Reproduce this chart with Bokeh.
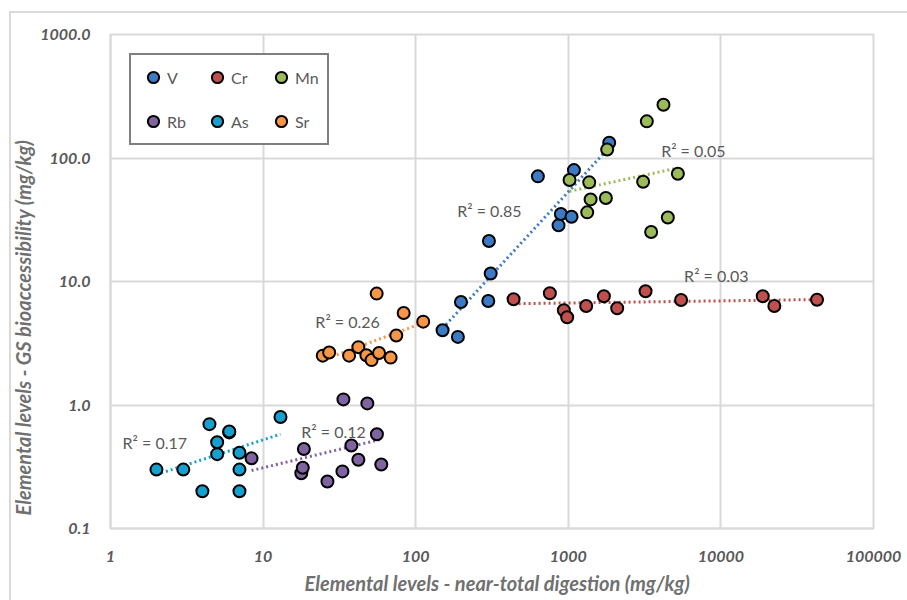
import numpy as np
from bokeh.plotting import figure
from bokeh.models import (Range1d, FixedTicker, Legend, LegendItem, Label,
                          Title, ColumnDataSource)
from bokeh.embed import file_html
from bokeh.resources import INLINE

# ---------------- data ----------------
V_x = [150, 189, 198, 299, 302, 310, 632, 863, 894, 1050, 1089, 1854]
V_y = [4.03, 3.56, 6.82, 6.95, 21.3, 11.6, 71.0, 28.5, 35.2, 33.4, 79.8, 133.0]

Cr_x = [438, 757, 935, 983, 1310, 1711, 2091, 3208, 5485, 18800, 22400, 42650]
Cr_y = [7.18, 8.03, 5.85, 5.13, 6.34, 7.59, 6.07, 8.33, 7.09, 7.59, 6.34, 7.11]

Mn_x = [1019, 1330, 1371, 1400, 1763, 1798, 3093, 3270, 3491, 4205, 4490, 5224]
Mn_y = [66.3, 36.3, 63.5, 46.2, 47.4, 117.0, 64.3, 198.0, 25.2, 270.0, 33.0, 74.6]

Rb_x = [8.4, 18.5, 17.8, 18.2, 26.4, 33.1, 33.6, 37.9, 42.1, 48.2, 55.7, 59.5]
Rb_y = [0.37, 0.44, 0.28, 0.31, 0.24, 0.29, 1.11, 0.47, 0.36, 1.03, 0.58, 0.33]

As_x = [2.0, 3.0, 4.0, 4.45, 5.0, 5.0, 6.0, 6.0, 7.0, 7.0, 7.0, 13.0]
As_y = [0.30, 0.30, 0.20, 0.70, 0.50, 0.40, 0.60, 0.61, 0.41, 0.30, 0.20, 0.80]

Sr_x = [24.6, 27.1, 36.6, 42.1, 47.5, 51.4, 55.5, 57.5, 68.5, 74.6, 83.4, 112.0]
Sr_y = [2.51, 2.66, 2.51, 2.94, 2.53, 2.31, 7.98, 2.64, 2.42, 3.65, 5.56, 4.73]

names = ["V", "Cr", "Mn", "Rb", "As", "Sr"]
xs = [V_x, Cr_x, Mn_x, Rb_x, As_x, Sr_x]
ys = [V_y, Cr_y, Mn_y, Rb_y, As_y, Sr_y]
colors = ["#3B7BC5", "#C0504D", "#9BBB59", "#8064A2", "#15A0CF", "#F79646"]

# R² annotations (value text, anchor x, anchor y in data units)
r2_text = ["R² = 0.85", "R² = 0.05", "R² = 0.03", "R² = 0.12", "R² = 0.17", "R² = 0.26"]
r2_x = [187, 4058, 5740, 17.8, 1.2, 22.0]
r2_y = [37.7, 115.0, 11.2, 0.605, 0.50, 4.7]

x_ticks = [1, 10, 100, 1000, 10000, 100000]
x_tick_labels = ["1", "10", "100", "1000", "10000", "100000"]
y_ticks = [0.1, 1, 10, 100, 1000]
y_tick_labels = ["0.1", "1.0", "10.0", "100.0", "1000.0"]

x_title = "Elemental levels - near-total digestion (mg/kg)"
y_title = "Elemental levels - GS bioaccessibility (mg/kg)"

# ---------------- figure ----------------
W, H = 907, 600
p = figure(width=W, height=H, x_axis_type="log", y_axis_type="log",
           x_range=Range1d(1, 100000), y_range=Range1d(0.1, 1000),
           output_backend="svg", toolbar_location=None,
           min_border_left=110, min_border_right=34,
           min_border_top=34, min_border_bottom=72)
p.background_fill_color = "white"
p.border_fill_color = "white"
p.border_fill_alpha = 0
p.styles = {
    "background": ("linear-gradient(#D9D9D9, #D9D9D9) 9px 11px / 2px 100% no-repeat, "
                   "linear-gradient(#D9D9D9, #D9D9D9) 9px 11px / 100% 2px no-repeat, white"),
}
p.outline_line_color = "#D9D9D9"
p.outline_line_width = 2

for ax, ticks, labels in ((p.xaxis[0], x_ticks, x_tick_labels),
                          (p.yaxis[0], y_ticks, y_tick_labels)):
    ax.ticker = FixedTicker(ticks=ticks, minor_ticks=[])
    ax.major_label_overrides = {t: l for t, l in zip(ticks, labels)}
    ax.axis_line_color = "#D9D9D9"
    ax.axis_line_width = 2
    ax.major_tick_line_color = None
    ax.minor_tick_line_color = None
    ax.major_label_text_font = "Lato"
    ax.major_label_text_font_style = "bold italic"
    ax.major_label_text_font_size = "16px"
    ax.major_label_text_color = "#595959"
p.xaxis.major_label_standoff = 16
p.yaxis.major_label_standoff = 14

p.xgrid.grid_line_color = "#D9D9D9"
p.ygrid.grid_line_color = "#D9D9D9"
p.xgrid.grid_line_width = 2
p.ygrid.grid_line_width = 2

# trend lines (power fits) then markers
for name, x, y, c in zip(names, xs, ys, colors):
    lx, ly = np.log10(x), np.log10(y)
    b, a = np.polyfit(lx, ly, 1)
    tx = np.array([min(x), max(x)], dtype=float)
    ty = 10 ** (a + b * np.log10(tx))
    p.line(tx, ty, line_color=c, line_width=3, line_dash="2 3")

renderers = []
for name, x, y, c in zip(names, xs, ys, colors):
    src = ColumnDataSource(dict(x=x, y=y))
    r = p.scatter("x", "y", source=src, size=12, fill_color=c,
                  line_color="black", line_width=2)
    renderers.append((name, r))

for t, x, y in zip(r2_text, r2_x, r2_y):
    p.add_layout(Label(x=x, y=y, text=t, text_font="Lato", text_font_size="16px",
                       text_color="#595959", text_align="left",
                       text_baseline="middle"))

legend = Legend(items=[LegendItem(label=n, renderers=[r]) for n, r in renderers],
                orientation="horizontal", ncols=3,
                location=(19, 383),
                glyph_width=28, glyph_height=28, label_standoff=0,
                label_width=20, spacing=16, padding=8,
                label_text_font="Lato", label_text_font_size="16px",
                label_text_color="#595959",
                border_line_color="black", border_line_width=2,
                background_fill_color="white", background_fill_alpha=1)
p.add_layout(legend, "center")

# axis titles
p.add_layout(Title(text=x_title, align="left", offset=194, standoff=8,
                   text_font="Lato", text_font_style="bold italic",
                   text_font_size="20px", text_color="#707070"), "below")
p.add_layout(Title(text=y_title, align="left", offset=13, standoff=6,
                   text_font="Lato", text_font_style="bold italic",
                   text_font_size="20px", text_color="#707070"), "left")

open("out.html", "w").write(file_html(p, INLINE))
